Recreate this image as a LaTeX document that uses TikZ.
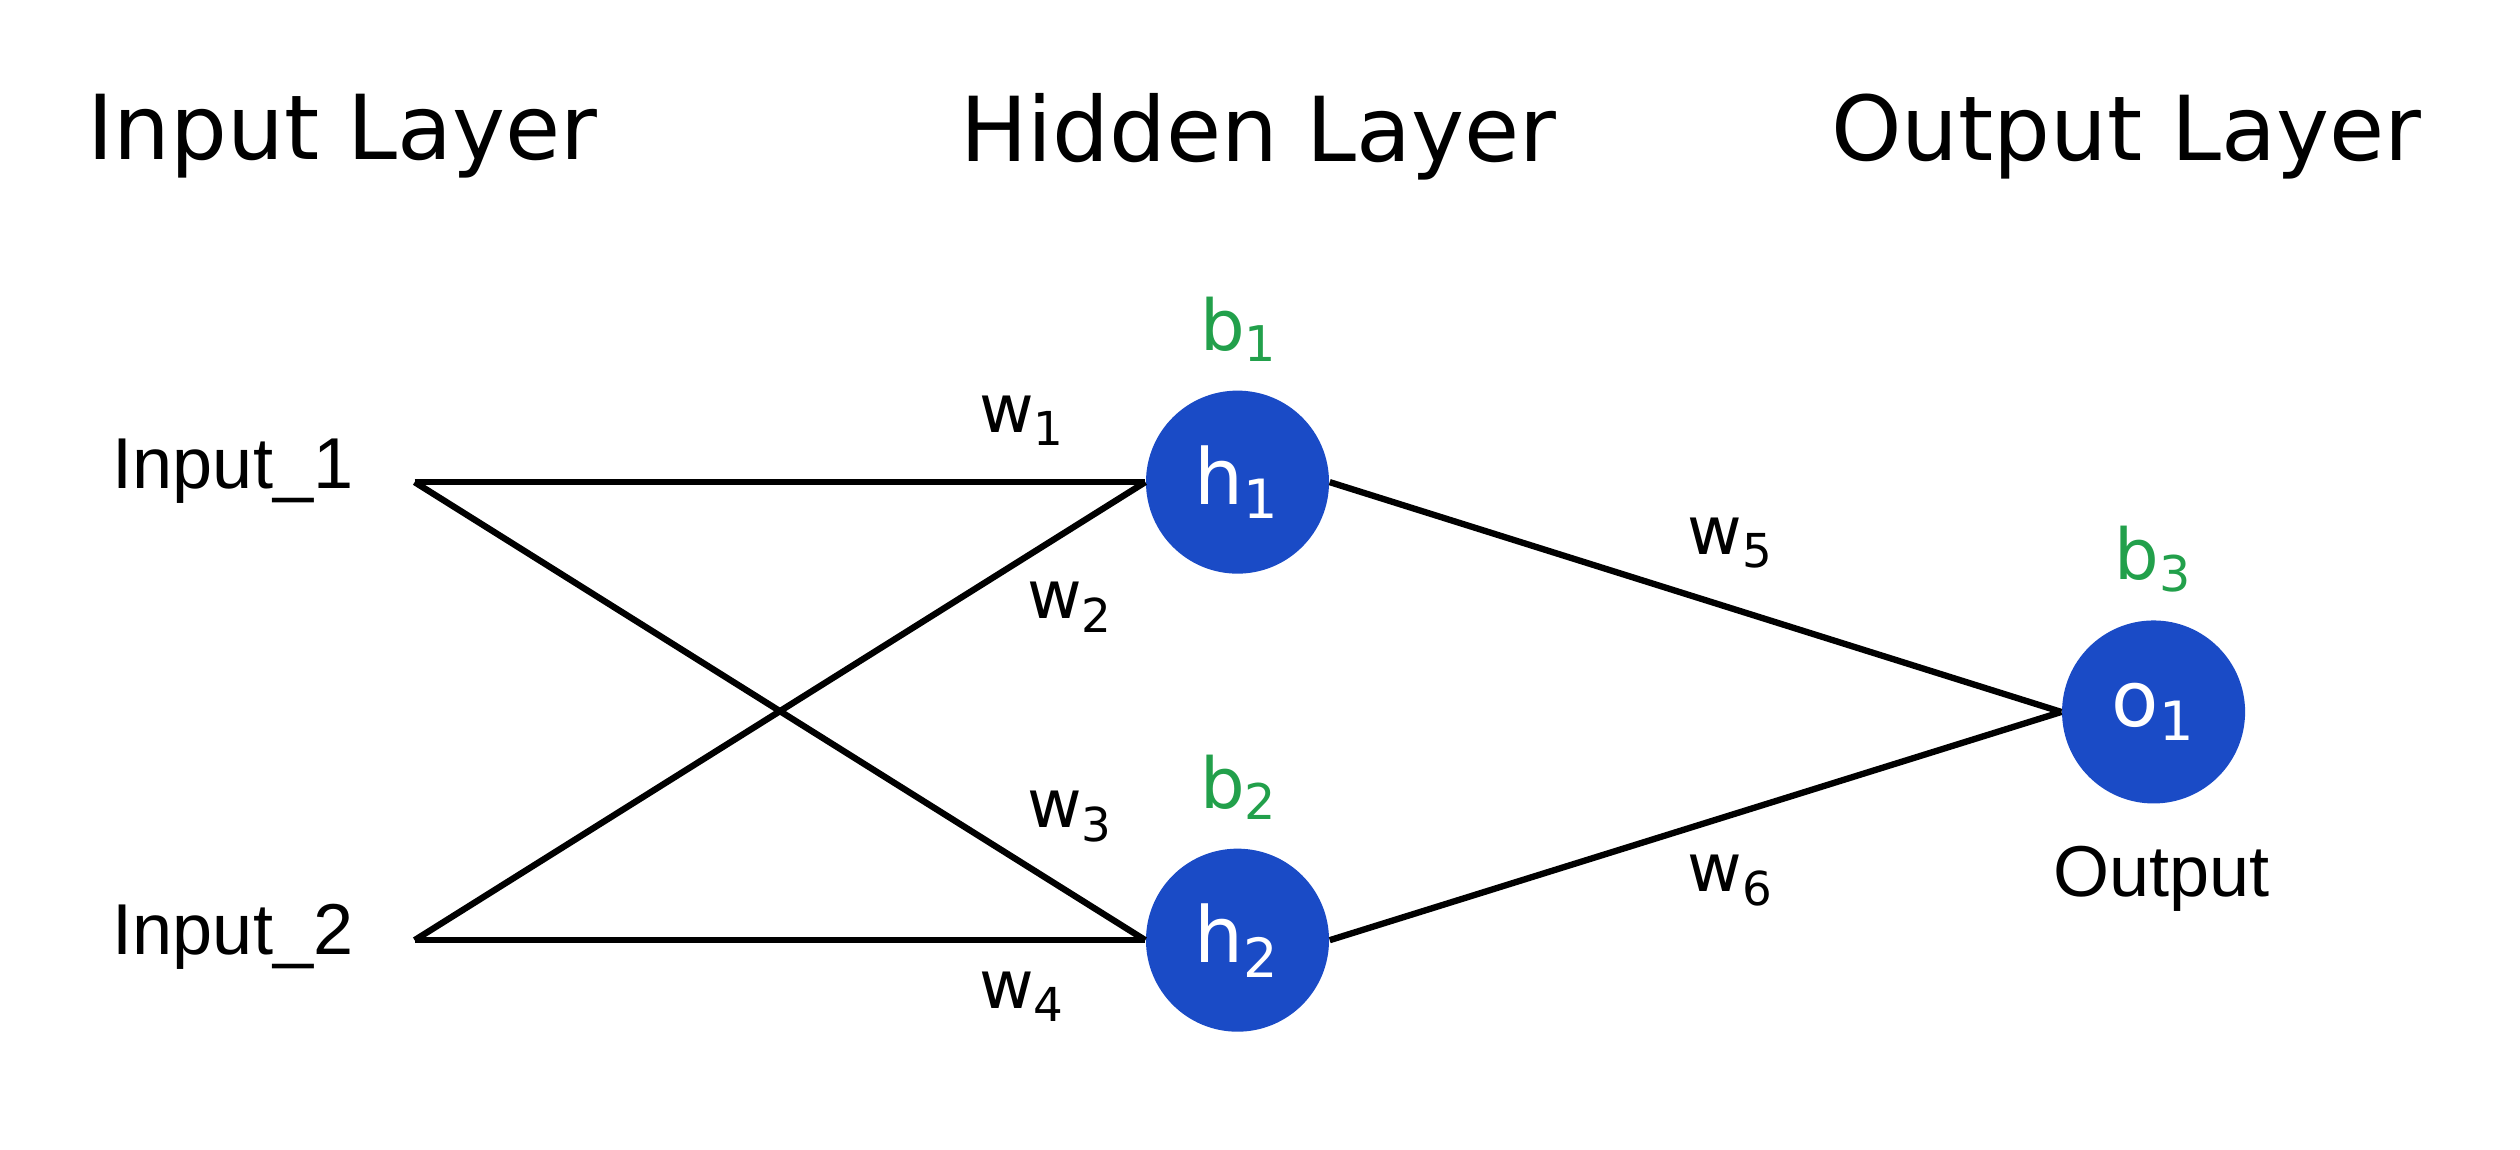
\documentclass[tikz,border=0pt]{standalone}
\usepackage{fontspec}
\setmainfont{DejaVu Sans}
\newfontfamily\arial{Liberation Sans}
\definecolor{nblue}{HTML}{1A4BC6}
\definecolor{bgreen}{HTML}{22A04B}
\begin{document}
\begin{tikzpicture}[x=0.01607cm,y=-0.01607cm,
  neuron/.style={circle,fill=nblue,minimum size=114\pgflinewidth,inner sep=0pt,text=white,font=\fontsize{22}{26}\selectfont},
  title/.style={font=\fontsize{25.5}{30}\selectfont},
  inlab/.style={font=\arial\fontsize{20.5}{24}\selectfont},
  wlab/.style={font=\fontsize{19}{22}\selectfont},
  blab/.style={font=\fontsize{20}{24}\selectfont,text=bgreen},
  conn/.style={line width=1.8pt}]
\useasboundingbox (0,0) rectangle (1568,715);
\node[title] (t1) at (213,85) {Input Layer};
\node[title] (t2) at (783,85) {Hidden Layer};
\node[title] (t3) at (1323,85) {Output Layer};
\node[inlab] (l1) at (145,293) {Input\_1};
\node[inlab] (l2) at (145,583) {Input\_2};
\coordinate (i1) at (258,300);
\coordinate (i2) at (258,585);
\node[circle,fill=nblue,minimum size=1.83cm,inner sep=0pt,text=white,font=\fontsize{22}{26}\selectfont] (h1) at (770,300) {h\textsubscript{1}};
\node[circle,fill=nblue,minimum size=1.83cm,inner sep=0pt,text=white,font=\fontsize{22}{26}\selectfont] (h2) at (770,585) {h\textsubscript{2}};
\node[circle,fill=nblue,minimum size=1.83cm,inner sep=0pt,text=white,font=\fontsize{22}{26}\selectfont] (o1) at (1340,443) {o\textsubscript{1}};
\draw[conn] (i1) -- (h1.west);
\draw[conn] (i1) -- (h2.west);
\draw[conn] (i2) -- (h1.west);
\draw[conn] (i2) -- (h2.west);
\draw[conn] (h1.east) -- (o1.west);
\draw[conn] (h2.east) -- (o1.west);
\node[wlab] (w1) at (636,262) {w\textsubscript{1}};
\node[wlab] (w2) at (666,378) {w\textsubscript{2}};
\node[wlab] (w3) at (666,508) {w\textsubscript{3}};
\node[wlab] (w4) at (636,620) {w\textsubscript{4}};
\node[wlab] (w5) at (1077,338) {w\textsubscript{5}};
\node[wlab] (w6) at (1077,548) {w\textsubscript{6}};
\node[blab] (b1) at (771,205) {b\textsubscript{1}};
\node[blab] (b2) at (771,490) {b\textsubscript{2}};
\node[blab] (b3) at (1340,348) {b\textsubscript{3}};
\node[inlab] (out) at (1345,547) {Output};
\end{tikzpicture}
\end{document}
